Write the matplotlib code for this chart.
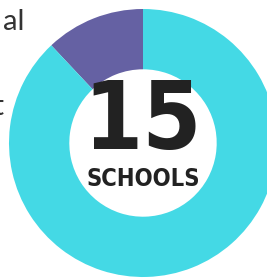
import matplotlib.pyplot as plt

# donut data (share of schools)
labels = ["Other", "Main"]
values = [12, 88]
colors = ["#6561a3", "#44d9e5"]
center_number = "15"
center_label = "SCHOOLS"

fig = plt.figure(figsize=(2.67, 2.78), dpi=100)
ax = fig.add_axes([0, 0, 1, 1])

# purple slice starts at 12 o'clock and runs counter-clockwise
ax.pie(values, colors=colors, startangle=90, counterclock=True,
       radius=1, wedgeprops=dict(width=0.45, edgecolor="none"))

# 134 px per data unit, centre at (143, 143) px from top-left
ax.set_xlim(-143 / 134, 124 / 134)
ax.set_ylim(-135 / 134, 143 / 134)
ax.set_aspect("auto")
ax.axis("off")

narrow = ["DejaVu Sans", "Liberation Sans"]
ax.text(0.0, 0.49, center_number, ha="center", va="top", fontsize=68,
        fontweight="bold", fontstretch="condensed", family=narrow,
        color="#222222")
ax.text(0.0, -0.18, center_label, ha="center", va="top", fontsize=17,
        fontweight="bold", fontstretch="condensed", family=narrow,
        color="#222222")

# cut-off labels at the left edge
ax.text(-143 / 134 + 24 / 134, 0.90, "al", ha="right", va="center",
        fontsize=21, family=["Lato", "DejaVu Sans"], color="#333333")
ax.text(-143 / 134 + 3 / 134, 0.27, "t", ha="right", va="center",
        fontsize=20, family=["Lato", "DejaVu Sans"], color="#333333")

fig.savefig("out.png", dpi=100)
